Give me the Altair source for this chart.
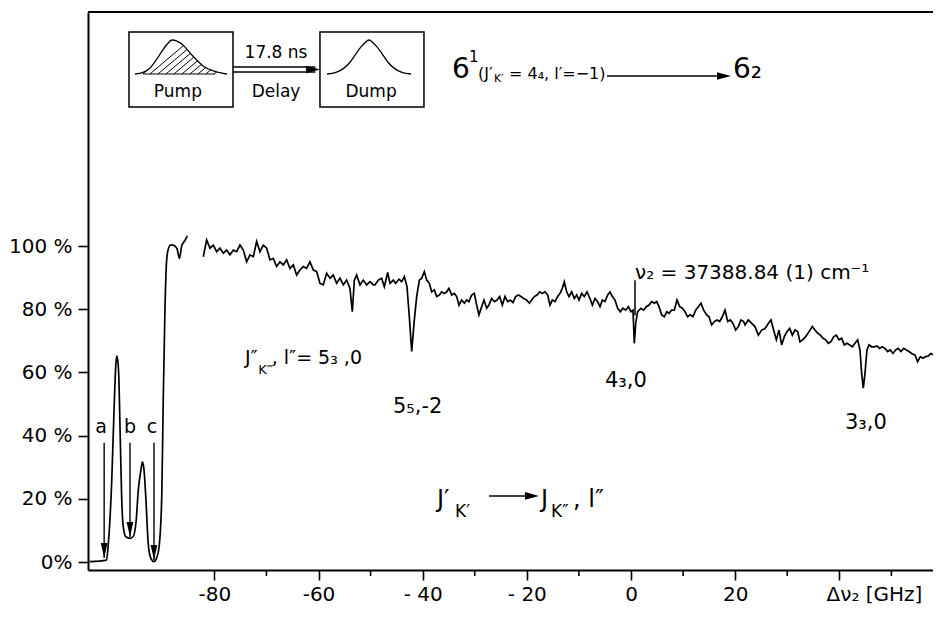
import altair as alt
import pandas as pd

FONT = "DejaVu Sans"
INK = "#000000"

# ---------------- data ----------------
# saturated region with the three pump lines a, b, c (smooth trace)
LEFT_GHZ = [-103.9, -100.7, -100.4, -99.7, -99.3, -98.9, -98.7, -98.4, -98.1, -97.8,
            -97.5, -97.0, -96.2, -95.6, -95.0, -94.6, -94.1, -93.8, -93.5, -93.1,
            -92.7, -92.2, -91.6, -91.1, -90.6, -90.1, -89.8, -89.5, -89.2, -88.9,
            -88.4, -87.9, -87.2, -86.7, -86.3, -85.6, -85.2]
LEFT_PCT = [0.1, 0.6, 4.9, 25.9, 46.0, 62.9, 65.2, 60.8, 41.8, 20.7,
            11.2, 8.0, 7.5, 8.0, 13.3, 22.8, 29.1, 31.7, 29.1, 18.6,
            5.9, 1.2, 0.1, 1.2, 4.9, 20.7, 52.3, 78.7, 94.5, 98.7,
            100.3, 100.3, 99.3, 96.1, 99.8, 101.9, 103.2]

# dump spectrum, four stretches
SEG1_GHZ = [-82.12, -81.48, -80.84, -80.20, -79.56, -78.92, -78.28, -77.64, -77.00, -76.36,
            -75.72, -75.08, -74.44, -73.80, -73.16, -72.52, -71.88, -71.24, -70.60, -69.96,
            -69.32, -68.68, -68.04, -67.40, -66.76, -66.12, -65.48, -64.84, -64.20, -63.56,
            -62.92, -62.28, -61.64, -61.00, -60.36, -59.72, -59.08, -58.44, -57.80, -57.16,
            -56.52, -55.88, -55.24, -54.60, -53.96, -53.51, -53.12, -52.68, -52.04, -51.40,
            -50.76, -50.12, -49.48]
SEG1_PCT = [96.6, 101.9, 99.3, 100.3, 98.2, 99.3, 97.7, 98.7, 97.2, 98.7,
            98.2, 100.3, 98.7, 95.0, 97.2, 96.6, 101.4, 98.2, 100.3, 99.3,
            95.6, 96.1, 93.5, 95.0, 94.0, 95.6, 92.9, 94.0, 90.8, 92.4,
            93.5, 92.9, 95.0, 92.4, 91.9, 88.2, 87.7, 91.4, 89.8, 90.8,
            88.2, 89.8, 87.7, 89.2, 86.6, 79.2, 89.2, 90.8, 87.7, 89.2,
            87.7, 88.7, 87.7]
SEG2_GHZ = [-49.16, -48.52, -47.88, -47.36, -46.72, -46.27, -45.64, -45.19, -44.55, -44.03,
            -43.52, -43.01, -42.56, -42.11, -41.60, -41.15, -40.64, -40.19, -39.68, -39.23,
            -38.72, -38.27, -37.76, -37.31, -36.80, -36.35, -35.84, -35.39, -34.95, -34.43,
            -33.92, -33.47, -33.03, -32.51, -32.00, -31.55, -31.11, -30.59, -30.08, -29.63,
            -29.19, -28.67, -28.23, -27.71, -27.27, -26.75, -26.24, -25.73, -25.22, -24.71,
            -24.19, -23.68, -23.17, -22.66, -22.15, -21.63, -21.12, -20.61, -20.03, -19.52,
            -19.07, -18.56, -18.05, -17.54, -17.03, -16.51, -16.00, -15.55, -15.11, -14.59,
            -14.08, -13.63, -13.19, -12.80]
SEG2_PCT = [87.7, 89.2, 89.8, 87.1, 91.6, 88.2, 89.2, 88.2, 89.5, 88.7,
            90.3, 87.1, 77.6, 66.6, 76.6, 84.0, 89.2, 89.8, 91.9, 89.2,
            88.2, 85.5, 86.1, 84.0, 84.5, 85.5, 85.0, 85.5, 86.6, 84.5,
            85.0, 84.0, 81.3, 82.9, 81.9, 82.9, 82.4, 84.5, 85.0, 81.3,
            78.2, 80.8, 82.9, 80.3, 81.3, 83.4, 82.4, 82.9, 84.0, 81.3,
            84.0, 82.4, 82.9, 82.1, 84.0, 84.5, 84.0, 83.4, 82.9, 81.9,
            82.9, 84.0, 84.5, 85.5, 85.0, 85.5, 84.5, 81.3, 82.9, 82.4,
            84.0, 85.0, 86.6, 88.7]
SEG3_GHZ = [-12.35, -11.90, -11.39, -10.88, -10.43, -9.98, -9.47, -8.96, -8.45, -7.87,
            -7.42, -6.91, -6.40, -5.95, -5.50, -4.99, -4.48, -4.03, -3.58, -3.07,
            -2.56, -2.05, -1.54, -1.02, -0.51, 0.00, 0.38, 0.64, 0.90, 1.28,
            1.92, 2.43, 2.94, 3.46, 3.97, 4.48, 4.93, 5.38, 5.89, 6.40,
            6.85, 7.30, 7.81, 8.32, 8.83, 9.35, 9.86, 10.37, 10.88, 11.39,
            11.90, 12.42, 12.93, 13.44, 13.95, 14.53, 14.98, 15.49, 16.00, 16.51,
            17.03, 17.54, 18.05, 18.56, 19.07, 19.59, 20.10, 20.61, 21.12, 21.63]
SEG3_PCT = [85.5, 84.0, 85.5, 83.4, 84.5, 82.9, 85.0, 84.0, 85.5, 83.4,
            81.3, 83.4, 82.4, 80.8, 82.9, 82.4, 84.5, 85.5, 84.0, 82.9,
            80.3, 79.2, 80.3, 79.7, 80.8, 79.2, 79.7, 69.2, 75.5, 79.2,
            80.3, 79.7, 80.8, 81.3, 82.4, 81.9, 82.4, 80.8, 78.2, 77.6,
            79.2, 78.7, 79.7, 79.7, 82.9, 80.8, 80.3, 79.2, 77.6, 78.2,
            77.6, 79.7, 80.8, 81.9, 79.7, 78.2, 77.6, 75.0, 76.1, 76.6,
            76.1, 77.6, 79.7, 76.1, 76.6, 75.5, 73.4, 74.5, 76.6, 76.1]
SEG4_GHZ = [21.89, 22.53, 23.17, 23.81, 24.45, 25.09, 25.73, 26.37, 26.88, 27.39,
            27.91, 28.42, 28.93, 29.44, 29.95, 30.47, 30.98, 31.49, 32.00, 32.45,
            32.96, 33.54, 34.18, 34.82, 35.33, 35.84, 36.35, 36.87, 37.38, 37.89,
            38.40, 38.92, 39.43, 39.94, 40.45, 40.96, 41.47, 41.99, 42.50, 43.01,
            43.52, 43.97, 44.29, 44.61, 44.93, 45.31, 45.70, 46.21, 46.72, 47.24,
            47.75, 48.26, 48.77, 49.28, 49.79, 50.31, 50.82, 51.33, 51.84, 52.36,
            52.87, 53.38, 53.89, 54.53, 55.04, 55.56, 56.07, 56.58, 57.09, 57.60,
            58.12, 58.63, 59.14, 59.52]
SEG4_PCT = [75.0, 76.6, 75.5, 74.5, 71.8, 73.4, 73.9, 75.5, 76.6, 73.4,
            70.3, 73.4, 68.7, 71.3, 72.9, 73.9, 71.8, 73.4, 72.9, 69.7,
            70.3, 71.3, 72.9, 74.5, 73.4, 72.4, 71.8, 70.8, 70.3, 69.2,
            69.7, 71.3, 71.8, 70.3, 70.8, 68.7, 69.2, 68.7, 68.1, 69.2,
            70.3, 67.1, 59.7, 55.0, 59.7, 67.1, 68.7, 68.1, 68.1, 68.4,
            67.6, 68.1, 67.6, 66.6, 67.1, 66.0, 67.1, 67.6, 66.6, 67.6,
            67.1, 66.6, 66.0, 65.5, 63.4, 65.0, 64.5, 65.0, 65.2, 66.0,
            65.5, 64.5, 62.9, 61.8]

# axes
X_DOMAIN = [-104.26, 57.99]
Y_DOMAIN = [-2.53, 174.05]
X_MAJOR = [-80, -60, -40, -20, 0, 20, 40]
X_MINOR = [-70, -50, -30, -10, 10, 30, 50]
X_LABELS = {-80: "-80", -60: "-60", -40: "- 40", -20: "- 20", 0: "0", 20: "20"}
Y_TICKS = [0, 20, 40, 60, 80, 100]
Y_LABELS = {0: "0%", 20: "20 %", 40: "40 %", 60: "60 %", 80: "80 %", 100: "100 %"}

# pump-line arrows a, b, c
ARROW_GHZ = [-101.16, -96.20, -91.59]
ARROW_TOP = [37.7, 37.7, 37.7]
ARROW_TIP = [1.3, 7.9, 0.6]

# inset: pump / dump pulses
BOX_X1 = [-96.39, -59.72]
BOX_X2 = [-76.42, -39.75]
BOX_TOP = [167.7, 167.7]
BOX_BOTTOM = [144.0, 144.0]
PUMP_GHZ = [-95.24, -93.70, -92.36, -91.21, -90.05, -89.09, -88.13, -87.17, -86.02, -84.68,
            -83.33, -81.80, -79.88, -77.57]
PUMP_PCT = [154.43, 154.93, 156.29, 158.75, 161.64, 163.83, 165.19, 164.85, 163.58, 161.12,
            158.75, 156.55, 155.27, 154.43]
DUMP_GHZ = [-58.37, -56.64, -55.11, -53.96, -52.80, -51.84, -51.08, -50.31, -49.54, -48.77,
            -47.81, -46.66, -45.51, -43.98, -42.24]
DUMP_PCT = [154.43, 154.93, 156.29, 158.16, 160.87, 162.99, 164.34, 165.19, 164.34, 162.99,
            160.87, 158.16, 156.29, 154.93, 154.43]
HATCH_X1 = [-93.70, -92.36, -90.82, -89.29, -87.75, -86.21, -84.68, -83.14, -81.61, -80.07]
HATCH_Y1 = [154.43] * 10
HATCH_X2 = [-92.36, -85.93, -85.27, -84.60, -83.93, -83.24, -82.47, -81.66, -80.65, -79.57]
HATCH_Y2 = [156.29, 163.41, 162.14, 160.96, 159.77, 158.59, 157.48, 156.46, 155.79, 155.11]
DELAY_Y = [156.65, 155.06]

# ---------------- chart ----------------
XS = alt.Scale(domain=X_DOMAIN, nice=False, zero=False)
YS = alt.Scale(domain=Y_DOMAIN, nice=False, zero=False)


def ternary(d):
    return "".join(f"datum.value === {k} ? '{v}' : " for k, v in d.items()) + "''"


X_AXIS = alt.Axis(values=X_MAJOR, labelExpr=ternary(X_LABELS), title=None, grid=False,
                  domainColor=INK, domainWidth=2, tickColor=INK, tickWidth=1.6, tickSize=10,
                  labelFont=FONT, labelFontSize=20, labelColor=INK, labelPadding=4,
                  labelFlush=False, labelOverlap=False)
Y_AXIS = alt.Axis(values=Y_TICKS, labelExpr=ternary(Y_LABELS), title=None, grid=False,
                  domainColor=INK, domainWidth=2, tickColor=INK, tickWidth=1.6, tickSize=10,
                  labelFont=FONT, labelFontSize=20, labelColor=INK, labelPadding=6,
                  labelFlush=False, labelOverlap=False)


def xq(f="x"):
    return alt.X(f"{f}:Q", scale=XS, axis=X_AXIS)


def yq(f="y"):
    return alt.Y(f"{f}:Q", scale=YS, axis=Y_AXIS)


segs = []
for gx, gy in [(SEG1_GHZ, SEG1_PCT), (SEG2_GHZ, SEG2_PCT),
               (SEG3_GHZ, SEG3_PCT), (SEG4_GHZ, SEG4_PCT)]:
    assert len(gx) == len(gy)
    segs.append(pd.DataFrame({"x": gx, "y": gy}))
trace_df = pd.concat(segs, ignore_index=True)
left_df = pd.DataFrame({"x": LEFT_GHZ, "y": LEFT_PCT})

trace = alt.Chart(trace_df).mark_line(color=INK, strokeWidth=1.7, clip=True).encode(
    x=xq(), y=yq())
left = alt.Chart(left_df).mark_line(color=INK, strokeWidth=1.7, interpolate="monotone",
                                    clip=True).encode(x=xq(), y=yq())

top_line = alt.Chart(pd.DataFrame({"k": [0]})).mark_rule(color=INK, strokeWidth=2).encode(
    x=alt.value(0), x2=alt.value(845), y=alt.value(0))
minor = alt.Chart(pd.DataFrame({"x": X_MINOR})).mark_rule(color=INK, strokeWidth=1.6).encode(
    x=xq(), y=alt.value(558), y2=alt.value(564))

arrows_df = pd.DataFrame({"x": ARROW_GHZ, "y": ARROW_TOP, "y2": ARROW_TIP})
arrow_shafts = alt.Chart(arrows_df).mark_rule(color=INK, strokeWidth=1.4).encode(
    x=xq(), y=yq(), y2=alt.Y2("y2:Q"))
arrow_heads = alt.Chart(arrows_df).mark_point(
    shape="M-0.45,-2L0.45,-2L0,0Z", filled=True, color=INK, opacity=1, size=225,
    strokeWidth=0).encode(x=xq(), y=yq("y2"))

boxes = alt.Chart(pd.DataFrame({"x": BOX_X1, "x2": BOX_X2, "y": BOX_TOP, "y2": BOX_BOTTOM})
                  ).mark_rect(fillOpacity=0, stroke=INK, strokeWidth=1.5).encode(
    x=xq(), x2=alt.X2("x2:Q"), y=yq(), y2=alt.Y2("y2:Q"))
pulses_df = pd.concat([pd.DataFrame({"x": PUMP_GHZ, "y": PUMP_PCT, "g": "pump"}),
                       pd.DataFrame({"x": DUMP_GHZ, "y": DUMP_PCT, "g": "dump"})])
pulses = alt.Chart(pulses_df).mark_line(color=INK, strokeWidth=1.3, interpolate="monotone").encode(
    x=xq(), y=yq(), detail="g:N")
hatch = alt.Chart(pd.DataFrame({"x": HATCH_X1, "y": HATCH_Y1, "x2": HATCH_X2, "y2": HATCH_Y2})
                  ).mark_rule(color=INK, strokeWidth=1).encode(
    x=xq(), y=yq(), x2=alt.X2("x2:Q"), y2=alt.Y2("y2:Q"))
pump_base = alt.Chart(pd.DataFrame({"x": [PUMP_GHZ[1]], "x2": [PUMP_GHZ[-2]], "y": [PUMP_PCT[0]]})
                      ).mark_rule(color=INK, strokeWidth=1).encode(x=xq(), x2=alt.X2("x2:Q"), y=yq())

# straight connectors: delay double arrow, title arrow, J'->J'' arrow
conn_df = pd.DataFrame({
    "x": [-76.42, -76.42, -4.61, -27.27],
    "x2": [-60.6, -60.6, 17.8, -19.0],
    "y": [DELAY_Y[0], DELAY_Y[1], 153.8, 20.9],
})
connectors = alt.Chart(conn_df).mark_rule(color=INK, strokeWidth=1.6).encode(
    x=xq(), x2=alt.X2("x2:Q"), y=yq())
heads_df = pd.DataFrame({"x": [-59.72, 19.2, -17.67], "y": [155.85, 153.8, 20.9]})
heads = alt.Chart(heads_df).mark_point(
    shape="M0,0L-2,-0.55L-2,0.55Z", filled=True, color=INK, opacity=1, size=196,
    strokeWidth=0).encode(x=xq(), y=yq())
marker = alt.Chart(pd.DataFrame({"x": [0.77], "y": [89.2], "y2": [78.0]})).mark_rule(
    color=INK, strokeWidth=1.5).encode(x=xq(), y=yq(), y2=alt.Y2("y2:Q"))

TXT_L = pd.DataFrame([
    ("J″", -74.12, 64.6, 19), ("K‴", -71.56, 60.8, 13), (", l″= 5₃ ,0", -68.99, 64.6, 19),
    ("5₅,-2", -45.70, 49.0, 21), ("4₃,0", -4.99, 57.3, 21), ("3₃,0", 41.09, 44.0, 21),
    ("ν₂ = 37388.84 (1) cm⁻¹", 0.77, 91.5, 20),
    ("J′", -37.25, 19.6, 24), ("K′", -33.79, 15.8, 17), ("J", -17.28, 19.6, 24),
    ("K″", -15.36, 15.8, 17), (", l″", -11.14, 19.6, 24),
    ("6", -34.37, 155.7, 28), ("1", -31.11, 159.8, 15), ("(J′", -29.38, 154.4, 16),
    ("K′", -26.3, 152.9, 11), ("= 4₄, l′=−1)", -23.43, 154.4, 16), ("6₂", 19.59, 155.7, 28),
], columns=["t", "x", "y", "s"])
TXT_C = pd.DataFrame([
    ("17.8 ns", -68.16, 161.0, 17), ("Pump", -87.0, 148.7, 17), ("Delay", -68.16, 148.7, 17),
    ("Dump", -49.9, 148.7, 17), ("a", -101.77, 42.7, 19), ("b", -96.20, 42.7, 19),
    ("c", -91.97, 42.7, 19), ("Δν₂ [GHz]", 46.75, -10.3, 20),
], columns=["t", "x", "y", "s"])

text_l = alt.Chart(TXT_L).mark_text(align="left", baseline="middle", font=FONT, color=INK).encode(
    x=xq(), y=yq(), text="t:N", size=alt.Size("s:Q", scale=None, legend=None))
text_c = alt.Chart(TXT_C).mark_text(align="center", baseline="middle", font=FONT, color=INK).encode(
    x=xq(), y=yq(), text="t:N", size=alt.Size("s:Q", scale=None, legend=None))

chart = alt.layer(
    trace, left, top_line, minor, arrow_shafts, arrow_heads, boxes, pulses, hatch, pump_base,
    connectors, heads, marker, text_l, text_c,
).properties(
    width=845, height=558,
    padding={"left": 80, "top": 4, "right": 0, "bottom": 40},
    autosize=alt.AutoSizeParams(type="none"),
).configure_view(stroke=None)

chart.save("out.html", embed_options={"renderer": "svg", "actions": False})
